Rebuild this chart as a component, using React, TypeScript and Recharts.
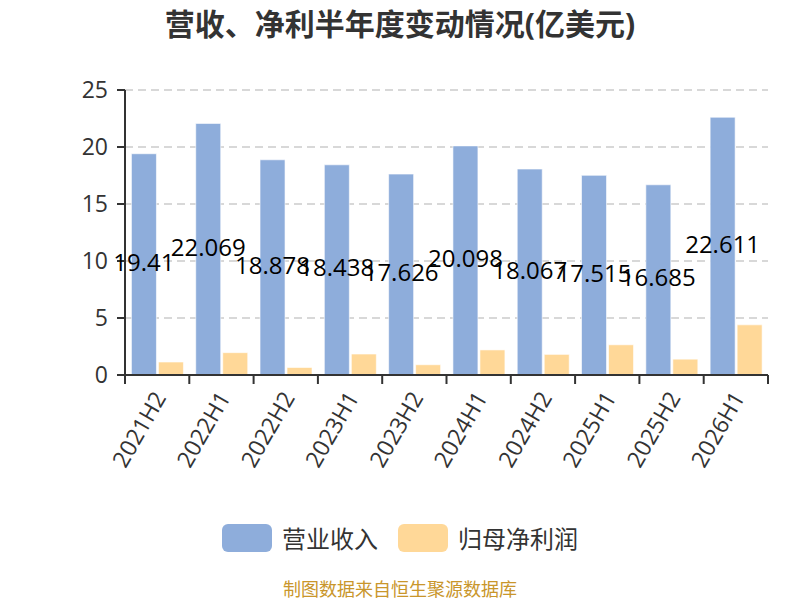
import { BarChart, Bar, XAxis, YAxis, CartesianGrid, Legend, LabelList } from "recharts";

const periods = ["2021H2", "2022H1", "2022H2", "2023H1", "2023H2", "2024H1", "2024H2", "2025H1", "2025H2", "2026H1"];
const revenue = [19.41, 22.069, 18.878, 18.438, 17.626, 20.098, 18.067, 17.515, 16.685, 22.611];
const netProfit = [1.14, 1.96, 0.66, 1.84, 0.9, 2.2, 1.81, 2.65, 1.39, 4.4];
const yTicks = [0, 5, 10, 15, 20, 25];

const data = periods.map((p, i) => ({ period: p, revenue: revenue[i], netProfit: netProfit[i] }));

const FONT = "'Open Sans', 'Noto Sans CJK SC', sans-serif";
const BLUE = "#8eaddb";
const ORANGE = "#ffd898";

// category tick: label rotated -60deg, plus boundary tick marks between categories (echarts style)
function PeriodTick(props: any) {
  const { x, y, payload, index } = props;
  const half = payload && payload.offset ? payload.offset : 32.15;
  const ax = x + 2;
  const ay = y + 18;
  return (
    <g>
      <line x1={x - half} y1={y} x2={x - half} y2={y + 9} stroke="#333" strokeWidth={2} />
      {index === periods.length - 1 && (
        <line x1={x + half} y1={y} x2={x + half} y2={y + 9} stroke="#333" strokeWidth={2} />
      )}
      <text
        x={ax}
        y={ay}
        transform={`rotate(-60, ${ax}, ${ay})`}
        textAnchor="end"
        dominantBaseline="central"
        fontSize={23}
        fill="#333"
        fontFamily={FONT}
      >
        {payload.value}
      </text>
    </g>
  );
}

function ValueLabel(props: any) {
  const { x, y, width, height, value } = props;
  return (
    <text
      x={x + width / 2}
      y={y + height / 2 - 3}
      textAnchor="middle"
      dominantBaseline="central"
      fontSize={24}
      fill="#000"
      fontFamily={FONT}
    >
      {value}
    </text>
  );
}

function LegendBox() {
  const items = [
    { name: "营业收入", color: BLUE },
    { name: "归母净利润", color: ORANGE },
  ];
  return (
    <div style={{ display: "flex", justifyContent: "center", alignItems: "center", gap: 20, width: 800 }}>
      {items.map((it) => (
        <div key={it.name} style={{ display: "flex", alignItems: "center" }}>
          <div style={{ width: 50, height: 28, borderRadius: 6, background: it.color, marginRight: 10 }} />
          <span style={{ fontSize: 24, color: "#333", fontFamily: FONT }}>{it.name}</span>
        </div>
      ))}
    </div>
  );
}

export default function App() {
  return (
    <div style={{ position: "absolute", left: 0, top: 0, width: 800, height: 600, background: "#fff", fontFamily: FONT }}>
      <div
        style={{
          position: "absolute",
          top: 0,
          left: 0,
          width: 800,
          height: 48,
          lineHeight: "48px",
          textAlign: "center",
          fontSize: 30,
          fontWeight: "bold",
          color: "#333",
        }}
      >
        营收、净利半年度变动情况(亿美元)
      </div>
      <BarChart
        width={800}
        height={600}
        data={data}
        margin={{ top: 90, right: 32, bottom: 125, left: 0 }}
        barCategoryGap="10%"
        barGap={2}
      >
        <CartesianGrid vertical={false} stroke="#ccc" strokeDasharray="8 5" strokeWidth={1.5} />
        <XAxis
          dataKey="period"
          height={100}
          axisLine={{ stroke: "#333", strokeWidth: 2 }}
          tickLine={false}
          tickSize={0}
          tickMargin={0}
          tick={<PeriodTick />}
          interval={0}
        />
        <YAxis
          width={125}
          domain={[0, 25]}
          ticks={yTicks}
          tickSize={8}
          tickMargin={9}
          stroke="#333"
          strokeWidth={2}
          tick={{ fontSize: 23, fill: "#333", fontFamily: FONT }}
        />
        <Legend
          layout="vertical"
          verticalAlign="middle"
          align="center"
          wrapperStyle={{ position: "absolute", top: 520, left: 0, width: 800 }}
          content={() => <LegendBox />}
        />
        <Bar dataKey="revenue" name="营业收入" fill={BLUE} stroke="rgba(255,255,255,0.6)" strokeWidth={1} isAnimationActive={false}>
          <LabelList dataKey="revenue" content={<ValueLabel />} />
        </Bar>
        <Bar dataKey="netProfit" name="归母净利润" fill={ORANGE} stroke="rgba(255,255,255,0.6)" strokeWidth={1} isAnimationActive={false} />
      </BarChart>
      <div
        style={{
          position: "absolute",
          top: 578,
          left: 0,
          width: 800,
          textAlign: "center",
          fontSize: 18,
          color: "#c9962b",
          lineHeight: "22px",
        }}
      >
        制图数据来自恒生聚源数据库
      </div>
    </div>
  );
}
